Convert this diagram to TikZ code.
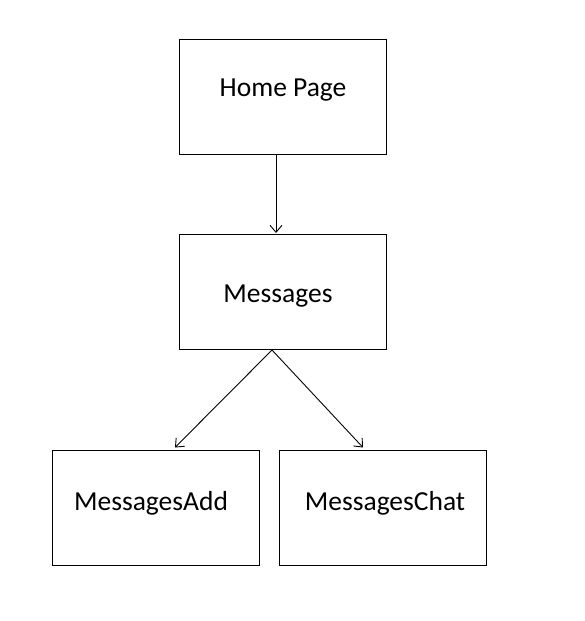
\documentclass[tikz,border=0pt]{standalone}
\usepackage{fontspec}
\setmainfont{Carlito}
\usetikzlibrary{arrows.meta,calc}
\begin{document}
\begin{tikzpicture}[x=1pt,y=-1pt,
  box/.style={draw,line width=1pt,minimum width=207pt,minimum height=115pt,inner sep=0pt},
  lbl/.style={font=\fontsize{27.5}{32}\selectfont,inner sep=0pt},
  conn/.style={line width=0.9pt,-{Straight Barb[length=7pt,width=12pt]}}]
\useasboundingbox (0,0) rectangle (585,621);
\node[box] (home) at (282.5,96.5) {};
\node[box] (msg) at (282.5,292) {};
\node[box] (add) at (156,507.5) {};
\node[box] (chat) at (383,507.5) {};
\node[lbl] (homet) at (283,90) {Home Page};
\node[lbl] (msgt) at (278,296) {Messages};
\node[lbl] (addt) at (151,503) {MessagesAdd};
\node[lbl] (chatt) at (385,503) {MessagesChat};
\coordinate (h1) at ($(home.south)+(-6.5,0)$);
\coordinate (m1) at ($(msg.north)+(-6.5,-1)$);
\coordinate (m2) at ($(msg.south)+(-10.5,0)$);
\coordinate (a1) at ($(add.north)+(19,-2)$);
\coordinate (c1) at ($(chat.north)+(-20,-2)$);
\draw[conn] (h1) -- (m1);
\draw[conn] (m2) -- (a1);
\draw[conn] (m2) -- (c1);
\end{tikzpicture}
\end{document}
